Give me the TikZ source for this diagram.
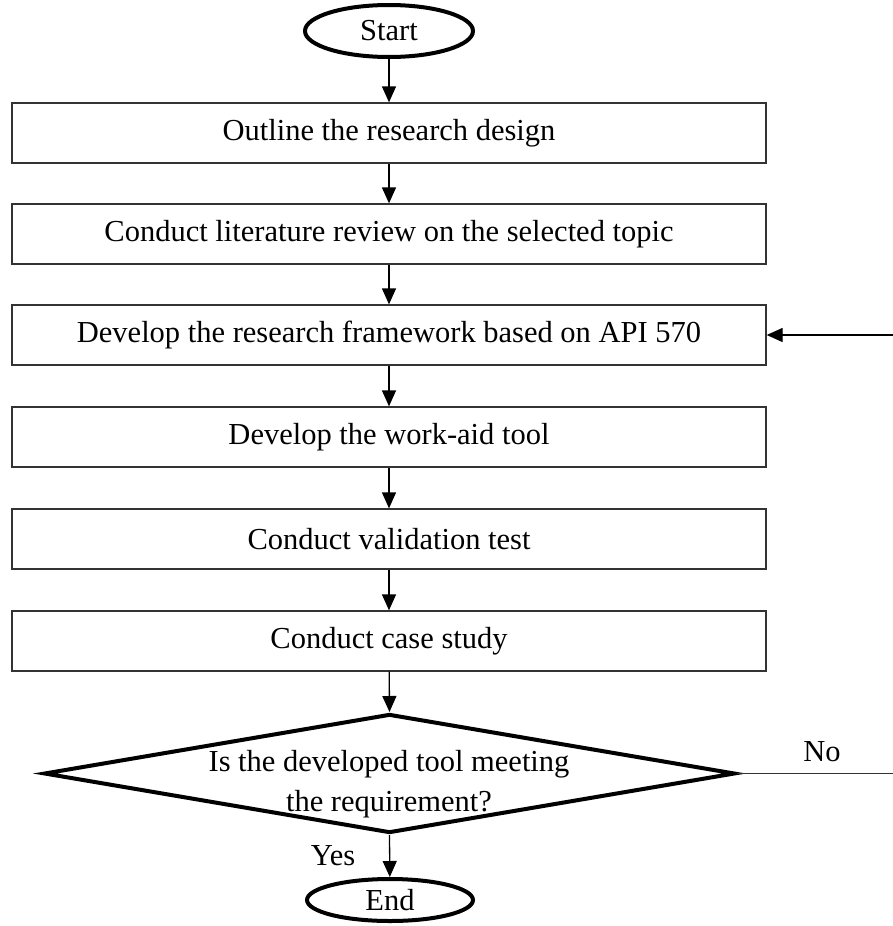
\documentclass[tikz,border=0pt]{standalone}
\usepackage{fontspec}
\setmainfont{Liberation Serif}
\usepackage{tikz}
\usetikzlibrary{arrows.meta,positioning,calc,shapes.geometric}

\begin{document}
\begin{tikzpicture}[x=1pt, y=-1pt,
  stepbox/.style={draw=black!80, line width=1.3pt, minimum width=754pt, minimum height=60pt,
              inner sep=0pt, font=\fontsize{30.5}{36}\selectfont},
  terminal/.style={draw, ellipse, line width=4pt, inner sep=0pt, font=\fontsize{30.5}{36}\selectfont},
  decision/.style={draw, diamond, line width=4pt, inner sep=0pt, minimum width=691pt, minimum height=119pt},
  arrow/.style={-{Triangle[length=16pt, width=14pt]}, line width=1.3pt},
  label/.style={font=\fontsize{30.5}{36}\selectfont}
]
\useasboundingbox (0,0) rectangle (893,926);

% Start / End
\node[terminal, minimum width=168pt, minimum height=52pt] (start) at (389,31) {Start};

% Steps
\node[stepbox] (s1) at (389,133) {Outline the research design};
\node[stepbox] (s2) at (389,234) {Conduct literature review on the selected topic};
\node[stepbox] (s3) at (389,335) {Develop the research framework based on API 570};
\node[stepbox] (s4) at (389,437) {Develop the work-aid tool};
\node[stepbox] (s5) at (389,539) {Conduct validation test};
\node[stepbox] (s6) at (389,641) {Conduct case study};

% Decision
\node[decision] (dec) at (389.5,773.5) {};
\node[align=center, inner sep=0pt, font=\fontsize{30.5}{40}\selectfont] (q) at (389,784)
  {Is the developed tool meeting\\the requirement?};

\node[terminal, minimum width=166pt, minimum height=42pt] (end) at (390,900) {End};

% Loop back
\coordinate (noout) at (893,773.5);
\coordinate (backin) at (893,335);

% Arrows
\draw[arrow] (start) -- (s1);
\draw[arrow] (s1) -- (s2);
\draw[arrow] (s2) -- (s3);
\draw[arrow] (s3) -- (s4);
\draw[arrow] (s4) -- (s5);
\draw[arrow] (s5) -- (s6);
\draw[arrow] (s6) -- (dec.north);
\draw[arrow] (dec.south) -- (end);
\draw[line width=1.3pt, black!80] (dec.east) -- (noout);
\draw[arrow] (backin) -- (s3.east);

\node[label] (yes) at (333,856) {Yes};
\node[label] (no) at (822,752) {No};
\end{tikzpicture}
\end{document}
